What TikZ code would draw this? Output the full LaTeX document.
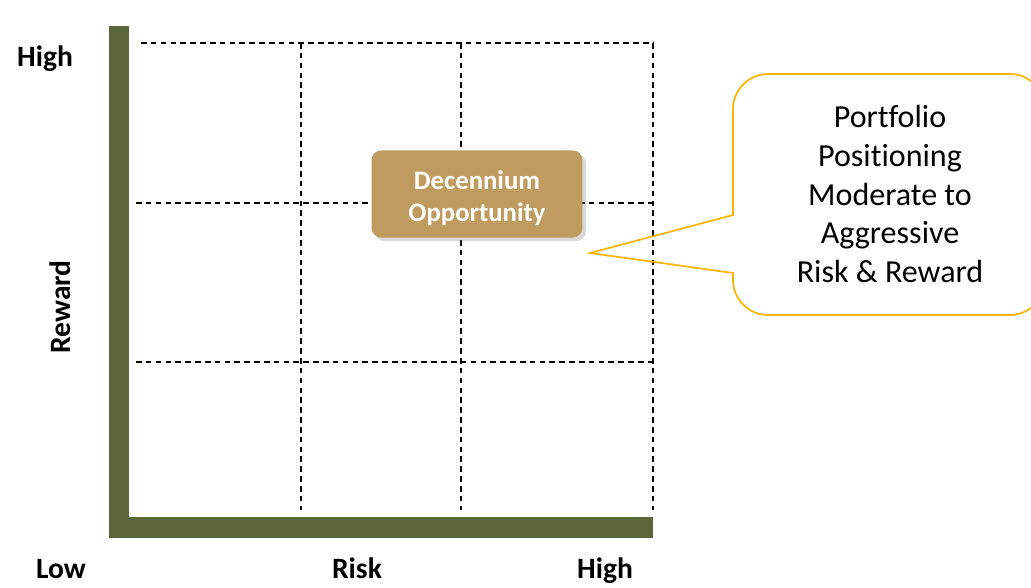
\documentclass[tikz,border=0pt]{standalone}
\usepackage{fontspec}
\setmainfont{Carlito}[Ligatures=NoCommon]
\usepackage{tikz}
\usetikzlibrary{shadows}
\definecolor{axisgreen}{RGB}{90,102,55}
\definecolor{boxgold}{RGB}{191,155,96}
\definecolor{calloutorange}{RGB}{255,178,0}
\tikzset{
  gridline/.style={black,line width=0.9pt,dash pattern=on 4pt off 3pt},
  axislabel/.style={font=\fontsize{21}{25}\selectfont\bfseries},
  opbox/.style={fill=boxgold,rounded corners=7pt,minimum width=150pt,minimum height=62pt,
    drop shadow={opacity=0.3,shadow xshift=2.5pt,shadow yshift=-2.5pt}},
  optext/.style={text=white,align=center,font=\fontsize{19}{23}\selectfont\bfseries},
  calloutline/.style={calloutorange,line width=1.2pt},
}

\begin{document}
\begin{tikzpicture}[x=0.025cm,y=-0.025cm]
	\useasboundingbox (0,0) rectangle (1031,587);
	\clip (0,0) rectangle (1031,587);
	% grid
	\draw[gridline] (141,43) -- (653,43);
	\draw[gridline] (136,203) -- (653,203);
	\draw[gridline] (136,362) -- (653,362);
	\draw[gridline] (301,43) -- (301,510);
	\draw[gridline] (461,43) -- (461,510);
	\draw[gridline] (653,43) -- (653,510);
	% axes
	\fill[axisgreen] (109,26) rectangle (129,538);
	\fill[axisgreen] (109,517) rectangle (653,538);
	\node[axislabel,anchor=base] (rewardhigh) at (45,66) {High};
	\node[axislabel,rotate=90] (reward) at (60,307) {Reward};
	\node[axislabel,anchor=base] (risklow) at (61,578) {Low};
	\node[axislabel,anchor=base] (risk) at (357,578) {Risk};
	\node[axislabel,anchor=base] (riskhigh) at (605,578) {High};
	% opportunity
	\node[opbox] (decennium) at (477,194) {};
	\node[optext] (decenniumtext) at (477,198) {Decennium\\Opportunity};
	% callout
	\draw[calloutline] (733,215) -- (590,253) -- (733,273) -- (733,277)
	  {[rounded corners=25pt] -- (733,315) -- (1045,315) -- (1045,74) -- (733,74) -- (733,150)} -- cycle;
	\node[align=center,font=\fontsize{22.8}{27.5}\selectfont] (portfolio) at (890,194)
	  {Portfolio\\Positioning\\Moderate to\\Aggressive\\Risk \& Reward};
\end{tikzpicture}
\end{document}
